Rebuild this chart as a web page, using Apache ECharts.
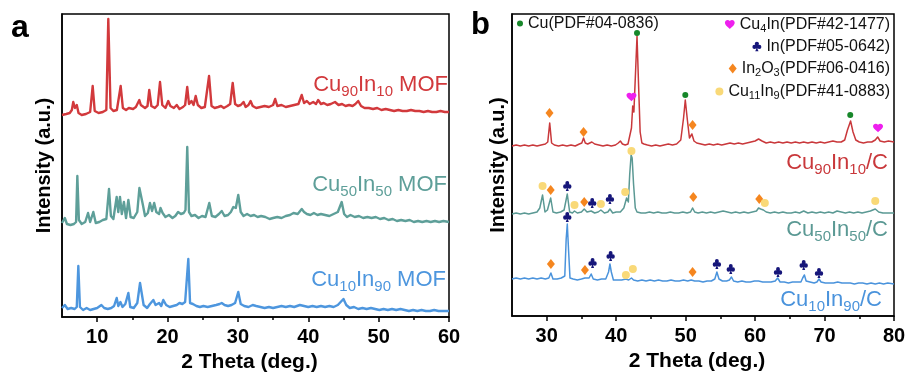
<!DOCTYPE html>
<html>
<head>
<meta charset="utf-8">
<script src="https://cdn.jsdelivr.net/npm/echarts@6/dist/echarts.min.js"></script>
<style>
html,body{margin:0;padding:0;background:#fff}
#chart{width:910px;height:374px}
</style>
</head>
<body>
<div id="chart"></div>
<script>
// ---- (a) MOF precursors: [2theta, intensity above the trace's own baseline] ----
const cu90In10Mof = [[5.0,0],[5.6,1],[6.1,2],[6.4,5],[6.6,13],[6.85,7],[7.1,10],[7.35,2],[7.8,0],[8.4,1],[9.0,3],[9.36,29],[9.65,4],[10.2,2],[10.8,3],[11.3,5],[11.58,96],[11.9,7],[12.3,4],[12.8,5],[13.34,29],[13.65,7],[14.1,5],[14.5,7],[14.76,9],[15.1,6],[15.5,8],[15.99,15],[16.2,10],[16.45,12],[16.8,7],[17.15,9],[17.4,25],[17.7,9],[18.2,7],[18.6,10],[18.93,33],[19.25,10],[19.7,7],[20.1,14],[20.4,9],[20.9,7],[21.3,10],[21.7,6],[22.2,8],[22.5,10],[22.8,28],[23.05,11],[23.4,14],[23.7,10],[24.0,19],[24.3,10],[24.8,7],[25.3,8],[25.9,39],[26.25,9],[26.7,7],[27.2,8],[27.6,9],[28.0,7],[28.5,9],[28.9,11],[29.26,32],[29.6,11],[30.0,9],[30.4,10],[30.8,13],[31.1,8],[31.5,10],[31.8,14],[32.1,9],[32.6,7],[33.2,8],[33.8,9],[34.4,8],[35.0,10],[35.3,16],[35.6,9],[36.2,10],[36.8,8],[37.4,9],[38.0,10],[38.6,11],[39.07,20],[39.4,12],[39.8,14],[40.2,11],[40.7,13],[41.1,11],[41.4,15],[41.8,11],[42.2,12],[42.7,10],[43.2,11],[43.8,13],[44.3,10],[44.8,11],[45.3,9],[45.8,10],[46.3,9],[46.7,11],[47.1,14],[47.5,9],[48.0,7],[48.6,7],[49.2,6],[49.8,7],[50.4,5],[51.0,6],[51.6,5],[52.2,4],[52.8,5],[53.4,4],[54.0,4],[54.6,5],[55.2,4],[55.8,4],[56.4,3],[57.0,4],[57.6,3],[58.2,3],[58.8,4],[59.4,3],[60.0,3]];

const cu50In50Mof = [[5.0,2],[5.4,7],[5.7,1],[6.2,0],[6.7,1],[7.0,3],[7.18,49],[7.4,5],[7.8,1],[8.3,3],[8.7,12],[9.0,3],[9.45,13],[9.8,2],[10.3,3],[10.8,5],[11.3,6],[11.68,36],[11.95,9],[12.3,6],[12.77,28],[13.0,13],[13.24,28],[13.5,11],[13.8,23],[14.1,7],[14.43,25],[14.75,8],[15.2,7],[15.7,13],[16.0,37],[16.2,37],[16.5,20],[16.8,9],[17.2,12],[17.5,22],[17.8,14],[18.1,22],[18.4,13],[18.8,11],[19.0,17],[19.3,12],[19.7,8],[20.2,10],[20.7,7],[21.1,9],[21.5,13],[21.9,11],[22.3,12],[22.55,15],[22.8,78],[23.05,13],[23.4,9],[23.9,10],[24.4,7],[24.9,9],[25.4,8],[25.93,22],[26.3,9],[26.8,8],[27.3,11],[27.7,14],[28.1,9],[28.6,10],[29.0,13],[29.35,18],[29.7,17],[30.05,30],[30.4,13],[30.8,9],[31.3,11],[31.8,9],[32.3,10],[32.8,8],[33.3,9],[33.9,8],[34.5,6],[35.0,7],[35.6,8],[36.2,7],[36.8,9],[37.4,10],[37.9,12],[38.5,11],[39.07,16],[39.4,13],[39.8,11],[40.3,10],[40.8,12],[41.3,10],[41.8,11],[42.4,10],[43.0,9],[43.6,11],[44.2,13],[44.75,23],[45.1,11],[45.5,8],[46.0,10],[46.6,8],[47.2,9],[47.8,7],[48.4,8],[49.0,7],[49.6,8],[50.2,6],[50.8,7],[51.4,5],[52.0,6],[52.6,4],[53.2,5],[53.8,4],[54.4,5],[55.0,3],[55.6,4],[56.2,3],[56.8,4],[57.4,3],[58.0,4],[58.6,3],[59.2,4],[60.0,3]];

const cu10In90Mof = [[5.0,2],[5.4,5],[5.8,1],[6.3,2],[6.8,1],[7.1,3],[7.32,44],[7.55,3],[8.0,0],[8.5,2],[9.0,0],[9.5,1],[10.0,2],[10.6,5],[11.0,2],[11.5,1],[12.0,2],[12.4,4],[12.77,12],[13.0,4],[13.3,8],[13.6,3],[14.0,6],[14.43,17],[14.7,3],[15.2,2],[15.7,7],[16.09,27],[16.3,18],[16.6,5],[17.1,2],[17.5,6],[17.98,10],[18.3,5],[18.8,7],[19.1,4],[19.4,10],[19.8,5],[20.3,3],[20.8,4],[21.3,5],[21.7,7],[22.1,6],[22.5,8],[22.95,51],[23.2,7],[23.6,6],[24.1,4],[24.6,3],[25.1,4],[25.7,3],[26.3,4],[26.9,5],[27.4,6],[27.7,7],[28.1,5],[28.6,4],[29.1,5],[29.6,7],[30.05,18],[30.4,6],[30.9,4],[31.5,3],[32.1,5],[32.6,4],[33.2,3],[33.8,2],[34.4,3],[35.0,2],[35.6,3],[36.2,4],[36.8,3],[37.4,4],[38.0,3],[38.8,5],[39.4,4],[40.0,3],[40.6,4],[41.2,3],[41.8,4],[42.4,3],[43.0,4],[43.6,3],[44.2,5],[44.6,8],[45.0,11],[45.4,5],[45.9,2],[46.5,3],[47.1,1],[47.7,2],[48.3,1],[48.9,2],[49.5,1],[50.1,0],[50.7,1],[51.3,0],[51.9,1],[52.5,0],[53.1,1],[53.7,0],[54.3,-1],[54.9,0],[55.5,-1],[56.1,0],[56.7,-1],[57.3,-1],[57.9,0],[58.5,-1],[59.1,-1],[60.0,-1]];

// ---- (b) carbonised samples ----
const cu90In10C = [[25.0,0],[25.6,1],[26.2,0],[26.8,1],[27.4,0],[28.0,1],[28.6,0],[29.2,1],[29.8,2],[30.15,4],[30.43,23],[30.7,3],[31.1,1],[31.7,0],[32.3,1],[32.9,0],[33.5,1],[34.1,0],[34.7,2],[35.05,3],[35.3,8],[35.55,3],[35.9,2],[36.5,4],[36.9,2],[37.5,1],[38.1,0],[38.7,1],[39.3,0],[39.9,1],[40.3,3],[40.6,5],[40.9,2],[41.3,1],[41.7,2],[41.95,3],[42.2,18],[42.38,40],[42.55,34],[42.8,76],[43.0,110],[43.2,66],[43.45,14],[43.7,3],[44.0,2],[44.5,1],[45.1,0],[45.7,1],[46.3,0],[46.9,1],[47.5,2],[48.1,1],[48.7,2],[49.3,6],[49.7,28],[49.95,46],[50.25,26],[50.55,8],[50.9,12],[51.2,5],[51.6,3],[52.2,2],[52.8,1],[53.4,2],[54.0,1],[54.6,2],[55.2,1],[55.8,2],[56.4,3],[57.0,2],[57.6,3],[58.2,2],[58.8,3],[59.4,4],[60.0,5],[60.5,7],[61.0,5],[61.6,3],[62.2,4],[62.8,3],[63.4,4],[64.0,3],[64.6,4],[65.2,3],[65.8,4],[66.4,3],[67.0,4],[67.6,3],[68.2,4],[68.8,3],[69.4,4],[70.0,3],[70.6,4],[71.2,5],[71.8,4],[72.4,4],[72.9,6],[73.3,16],[73.75,25],[74.1,14],[74.5,6],[75.0,4],[75.6,3],[76.2,4],[76.8,4],[77.3,6],[77.65,9],[78.0,5],[78.6,4],[79.2,5],[80.0,4]];

const cu50In50C = [[25.0,0],[25.6,1],[26.2,0],[26.8,1],[27.4,0],[28.0,1],[28.6,2],[29.0,6],[29.4,19],[29.75,2],[30.1,4],[30.57,16],[30.9,2],[31.4,1],[32.0,2],[32.5,4],[32.96,20],[33.3,2],[33.7,1],[34.0,3],[34.4,1],[35.0,2],[35.4,5],[35.8,2],[36.4,3],[36.9,1],[37.4,2],[37.8,4],[38.3,1],[38.8,2],[39.1,5],[39.5,1],[40.0,2],[40.6,2],[41.1,6],[41.5,16],[41.75,12],[41.95,40],[42.15,59],[42.3,56],[42.5,30],[42.75,6],[43.0,2],[43.6,1],[44.2,1],[44.8,2],[45.4,1],[46.0,2],[46.6,1],[47.2,1],[47.8,2],[48.4,1],[49.0,1],[49.6,2],[50.2,1],[50.7,2],[51.0,6],[51.3,2],[51.8,1],[52.4,2],[53.0,1],[53.6,2],[54.2,1],[54.8,2],[55.4,3],[56.0,2],[56.6,1],[57.2,2],[57.8,1],[58.4,2],[59.0,1],[59.6,2],[60.2,3],[60.5,6],[60.8,5],[61.2,4],[61.6,2],[62.2,1],[62.8,2],[63.4,1],[64.0,2],[64.6,1],[65.2,1],[65.8,2],[66.4,1],[67.0,3],[67.6,1],[68.2,2],[68.8,1],[69.4,2],[70.0,1],[70.6,2],[71.2,1],[71.8,3],[72.4,2],[73.0,1],[73.6,2],[74.2,1],[74.8,2],[75.4,1],[76.0,2],[76.6,3],[77.3,5],[77.8,2],[78.4,1],[79.0,1],[80.0,1]];

const cu10In90C = [[25.0,0],[25.6,1],[26.2,0],[26.8,1],[27.4,0],[28.0,1],[28.6,0],[29.2,1],[29.8,0],[30.3,1],[30.6,6],[30.9,0],[31.5,0],[32.1,1],[32.6,3],[32.8,40],[32.96,55],[33.15,28],[33.35,1],[33.8,0],[34.4,-1],[35.0,0],[35.5,1],[36.1,1],[36.4,5],[36.7,0],[37.3,-1],[37.9,0],[38.5,0],[38.9,7],[39.1,15],[39.3,7],[39.6,-1],[40.2,-1],[40.8,-1],[41.4,0],[41.8,-1],[42.2,1],[42.5,-1],[43.1,-2],[43.7,-1],[44.3,-2],[44.9,-1],[45.5,-2],[46.1,-1],[46.7,-2],[47.3,-2],[47.9,-1],[48.5,-2],[49.1,-2],[49.7,-1],[50.3,-2],[50.8,-1],[51.0,0],[51.3,-2],[51.9,-2],[52.5,-3],[53.1,-2],[53.7,-2],[54.2,0],[54.5,7],[54.8,0],[55.3,-2],[55.9,-2],[56.3,-1],[56.6,2],[56.9,-2],[57.5,-3],[58.1,-2],[58.7,-3],[59.3,-3],[59.9,-2],[60.5,-2],[61.1,-3],[61.7,-3],[62.3,-3],[62.9,-2],[63.25,1],[63.6,-3],[64.2,-3],[64.8,-4],[65.4,-3],[66.0,-3],[66.6,-3],[66.85,1],[67.1,4],[67.35,-2],[67.9,-3],[68.5,-4],[68.9,-3],[69.2,0],[69.5,-3],[70.1,-4],[70.7,-4],[71.3,-4],[71.9,-3],[72.5,-4],[73.1,-4],[73.7,-4],[74.3,-5],[74.9,-4],[75.5,-4],[76.1,-5],[76.7,-4],[77.3,-5],[77.9,-4],[78.5,-5],[79.1,-4],[80.0,-5]];

// Phase markers in (b): [sample, 2theta, marker height above that sample's baseline]
const cuMarks = [['cu90',43.0,113],['cu90',49.95,51],['cu90',73.7,31]];
const cu4InMarks = [['cu90',42.2,49],['cu90',77.7,18]];
const inMarks = [['cu50',32.96,28],['cu50',36.55,11],['cu50',39.1,15],['cu10',32.96,62],['cu10',36.6,16],['cu10',39.2,23],['cu10',54.5,15],['cu10',56.5,10],['cu10',63.3,7],['cu10',67.0,14],['cu10',69.2,6]];
const in2O3Marks = [['cu90',30.4,33],['cu90',35.3,14],['cu90',51.0,21],['cu50',30.57,24],['cu50',35.4,12],['cu50',51.1,17],['cu50',60.6,15],['cu10',30.6,15],['cu10',35.5,9],['cu10',51.0,7]];
const cu11In9Marks = [['cu50',29.4,28],['cu50',34.0,9],['cu50',37.8,10],['cu50',41.3,22],['cu50',42.2,63],['cu50',61.4,11],['cu50',77.3,13],['cu10',41.4,4],['cu10',42.4,10]];

// Axis ticks
const ticksA = [10, 20, 30, 40, 50, 60];
const minorTicksA = [15, 25, 35, 45, 55];
const ticksB = [30, 40, 50, 60, 70, 80];
const minorTicksB = [35, 45, 55, 65, 75];

// Phase names shown in the legend
const phaseCu = 'Cu(PDF#04-0836)';
const phaseCu4In = 'Cu4In(PDF#42-1477)';
const phaseIn = 'In(PDF#05-0642)';
const phaseIn2O3 = 'In2O3(PDF#06-0416)';
const phaseCu11In9 = 'Cu11In9(PDF#41-0883)';

// ---------------------------------------------------------------
const FONT = 'Arial, "Liberation Sans", Helvetica, sans-serif';
const RED_A = '#d2393c', TEAL_A = '#5e9f99', BLUE_A = '#4d96de';
const RED_B = '#c9383b', TEAL_B = '#5b9994', BLUE_B = '#4a93dc';

// vertical stacking of the patterns within each panel
const offsetA = { cu90: 202, cu50: 92, cu10: 7 };
const offsetB = { cu90: 170, cu50: 102, cu10: 37 };

const lift = (arr, off) => arr.map(p => [p[0], p[1] + off]);
const liftMarks = (arr) => arr.map(m => [m[1], m[2] + offsetB[m[0]]]);

const heartPath = 'path://M12 21.35l-1.45-1.32C5.4 15.36 2 12.28 2 8.5 2 5.42 4.42 3 7.5 3c1.74 0 3.41.81 4.5 2.09C13.09 3.81 14.76 3 16.5 3 19.58 3 22 5.42 22 8.5c0 3.78-3.4 6.86-8.55 11.54L12 21.35z';
const clubPath = 'path://M7.4 6.1a4.6 4.6 0 1 1 9.2 0a4.6 4.6 0 1 1 -9.2 0ZM2.2 13a4.6 4.6 0 1 1 9.2 0a4.6 4.6 0 1 1 -9.2 0ZM12.6 13a4.6 4.6 0 1 1 9.2 0a4.6 4.6 0 1 1 -9.2 0ZM11 8L13 8L13.4 17.5L15.6 22.5L8.4 22.5L10.6 17.5Z';

function xAxes(grid, min, max, major, minor) {
  return [{
    gridIndex: grid, type: 'value', min: min, max: max,
    axisLine: { show: true, lineStyle: { color: '#000', width: 1.5 } },
    axisTick: { show: true, customValues: major, length: 5, lineStyle: { color: '#000', width: 1.5 } },
    axisLabel: { show: true, customValues: major, margin: 10, color: '#000', fontSize: 20, fontWeight: 'bold', fontFamily: FONT },
    splitLine: { show: false },
    name: '2 Theta (deg.)', nameLocation: 'middle', nameGap: 31,
    nameTextStyle: { color: '#000', fontSize: 21, fontWeight: 'bold', fontFamily: FONT, padding: [0, 12, 0, 0] }
  }, {
    gridIndex: grid, type: 'value', min: min, max: max, position: 'bottom',
    axisLine: { show: false },
    axisTick: { show: true, customValues: minor, length: 3, lineStyle: { color: '#000', width: 1.5 } },
    axisLabel: { show: false },
    splitLine: { show: false }
  }];
}

function yAxis(grid, max, gap) {
  return {
    gridIndex: grid, type: 'value', min: 0, max: max,
    axisLine: { show: true, lineStyle: { color: '#000', width: 1.5 } },
    axisTick: { show: false }, axisLabel: { show: false }, splitLine: { show: false },
    name: 'Intensity (a.u.)', nameLocation: 'middle', nameGap: gap,
    nameTextStyle: { color: '#000', fontSize: 20, fontWeight: 'bold', fontFamily: FONT }
  };
}

function trace(name, data, color, width, xi, yi) {
  return {
    type: 'line', name: name, data: data, xAxisIndex: xi, yAxisIndex: yi,
    showSymbol: false, symbol: 'none', smooth: false, silent: true,
    lineStyle: { color: color, width: width, join: 'round' }, z: 2
  };
}

function marks(name, data, symbol, size, color) {
  return {
    type: 'scatter', name: name, data: data, xAxisIndex: 2, yAxisIndex: 1,
    symbol: symbol, symbolSize: size, symbolKeepAspect: true, silent: true,
    itemStyle: { color: color, opacity: 1 }, z: 5
  };
}

// rich-text helpers for sub-scripted formulas
function richSet(size, subSize, lh, color) {
  return {
    m: { fontSize: size, lineHeight: lh, color: color, fontFamily: FONT, fontWeight: 'normal', verticalAlign: 'middle' },
    s: { fontSize: subSize, color: color, fontFamily: FONT, fontWeight: 'normal', verticalAlign: 'bottom' }
  };
}
function sampleLabel(text, right, centerY, color) {
  return {
    text: text, right: right, top: centerY - 14.5, padding: 0,
    textStyle: { fontWeight: 'normal', rich: richSet(22, 15, 29, color) }
  };
}

const legendText = {};
legendText[phaseCu] = '{m|Cu(PDF#04-0836)}';
legendText[phaseCu4In] = '{m|Cu}{s|4}{m|In(PDF#42-1477)}';
legendText[phaseIn] = '{m|In(PDF#05-0642)}';
legendText[phaseIn2O3] = '{m|In}{s|2}{m|O}{s|3}{m|(PDF#06-0416)}';
legendText[phaseCu11In9] = '{m|Cu}{s|11}{m|In}{s|9}{m|(PDF#41-0883)}';

function legendRow(name, pos, centerY, w, h) {
  return Object.assign({
    data: [name], top: centerY - 9.5, orient: 'horizontal', padding: 0,
    itemWidth: w, itemHeight: h, selectedMode: false,
    formatter: n => legendText[n],
    textStyle: { rich: richSet(16, 11, 19, '#111') }
  }, pos);
}

const option = {
  animation: false,
  backgroundColor: '#fff',
  grid: [
    { left: 62, top: 14, width: 387, height: 303, show: true, borderColor: '#000', borderWidth: 1.5, backgroundColor: 'transparent', containLabel: false, outerBoundsMode: 'none' },
    { left: 512, top: 14, width: 382, height: 302, show: true, borderColor: '#000', borderWidth: 1.5, backgroundColor: 'transparent', containLabel: false, outerBoundsMode: 'none' }
  ],
  xAxis: [].concat(xAxes(0, 5, 60, ticksA, minorTicksA), xAxes(1, 25, 80, ticksB, minorTicksB)),
  yAxis: [yAxis(0, 303, 8), yAxis(1, 302, 4)],
  title: [
    { text: 'a', left: 11, top: 12, padding: 0, textStyle: { fontSize: 32, fontWeight: 'bold', color: '#000', fontFamily: FONT } },
    { text: 'b', left: 471, top: 10, padding: 0, textStyle: { fontSize: 31, fontWeight: 'bold', color: '#000', fontFamily: FONT } },
    sampleLabel('{m|Cu}{s|90}{m|In}{s|10}{m| MOF}', 462, 85, RED_A),
    sampleLabel('{m|Cu}{s|50}{m|In}{s|50}{m| MOF}', 463, 185, TEAL_A),
    sampleLabel('{m|Cu}{s|10}{m|In}{s|90}{m| MOF}', 464, 280, BLUE_A),
    sampleLabel('{m|Cu}{s|90}{m|In}{s|10}{m|/C}', 22, 163, RED_B),
    sampleLabel('{m|Cu}{s|50}{m|In}{s|50}{m|/C}', 22, 230, TEAL_B),
    sampleLabel('{m|Cu}{s|10}{m|In}{s|90}{m|/C}', 28, 300, BLUE_B)
  ],
  legend: [
    legendRow(phaseCu, { left: 517 }, 25, 6, 6),
    legendRow(phaseCu4In, { right: 20 }, 26, 10, 9),
    legendRow(phaseIn, { right: 20 }, 48, 9, 10),
    legendRow(phaseIn2O3, { right: 20 }, 70, 8, 10),
    legendRow(phaseCu11In9, { right: 20 }, 93, 8, 8)
  ],
  series: [
    trace('Cu90In10 MOF', lift(cu90In10Mof, offsetA.cu90), RED_A, 2.4, 0, 0),
    trace('Cu50In50 MOF', lift(cu50In50Mof, offsetA.cu50), TEAL_A, 2.4, 0, 0),
    trace('Cu10In90 MOF', lift(cu10In90Mof, offsetA.cu10), BLUE_A, 2.4, 0, 0),
    trace('Cu90In10/C', lift(cu90In10C, offsetB.cu90), RED_B, 1.5, 2, 1),
    trace('Cu50In50/C', lift(cu50In50C, offsetB.cu50), TEAL_B, 1.5, 2, 1),
    trace('Cu10In90/C', lift(cu10In90C, offsetB.cu10), BLUE_B, 1.5, 2, 1),
    marks(phaseCu, liftMarks(cuMarks), 'circle', 6, '#17872a'),
    marks(phaseCu4In, liftMarks(cu4InMarks), heartPath, [10, 9], '#ee1fee'),
    marks(phaseIn, liftMarks(inMarks), clubPath, [9, 10], '#16167a'),
    marks(phaseIn2O3, liftMarks(in2O3Marks), 'diamond', [8, 10], '#f5861f'),
    marks(phaseCu11In9, liftMarks(cu11In9Marks), 'circle', 8, '#f9d978')
  ]
};

const chart = echarts.init(document.getElementById('chart'), null, { renderer: 'canvas' });
chart.setOption(option);
</script>
</body>
</html>
